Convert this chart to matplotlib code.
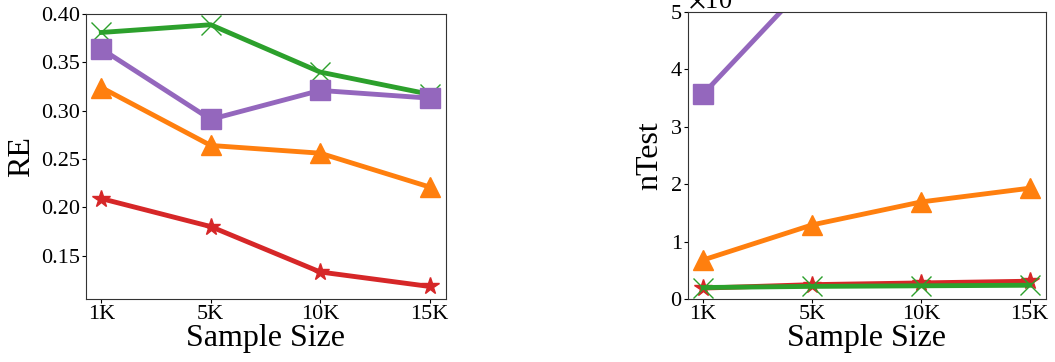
import matplotlib
matplotlib.use("Agg")
import matplotlib.pyplot as plt
from matplotlib.ticker import ScalarFormatter

plt.rcParams['font.family'] = ['Liberation Serif', 'DejaVu Serif']
plt.rcParams['mathtext.fontset'] = 'stix'

sizes = ["1K", "5K", "10K", "15K"]

re_red = [0.209, 0.180, 0.133, 0.118]
re_orange = [0.324, 0.264, 0.256, 0.221]
re_green = [0.381, 0.389, 0.340, 0.317]
re_purple = [0.364, 0.291, 0.321, 0.313]

nt_red = [0.19e4, 0.25e4, 0.28e4, 0.31e4]
nt_orange = [0.68e4, 1.29e4, 1.69e4, 1.93e4]
nt_green = [0.20e4, 0.22e4, 0.23e4, 0.24e4]
nt_purple = [3.57e4, 5.58e4, 7.5e4, 9.0e4]

styles = [
    ("red", "#d62728", "*", 13, 1.0),
    ("orange", "#ff7f0e", "^", 15, 1.0),
    ("green", "#2ca02c", "x", 15, 1.0),
    ("purple", "#9467bd", "s", 14, 1.0),
]

fig = plt.figure(figsize=(10.55, 3.62), dpi=100)
ax1 = fig.add_axes([0.0815, 0.174, 0.3412, 0.787])
ax2 = fig.add_axes([0.652, 0.174, 0.3395, 0.793])

x = list(range(len(sizes)))
re_data = {"red": re_red, "orange": re_orange, "green": re_green, "purple": re_purple}
nt_data = {"red": nt_red, "orange": nt_orange, "green": nt_green, "purple": nt_purple}

for ax, data in ((ax1, re_data), (ax2, nt_data)):
    for name, col, mk, ms, mew in styles:
        ax.plot(x, data[name], color=col, marker=mk, markersize=ms,
                linewidth=3.5, markeredgewidth=mew, markeredgecolor=col)
    ax.set_xticks(x)
    ax.set_xticklabels(sizes)
    ax.set_xlim(-0.14, 3.15)
    ax.tick_params(labelsize=16, pad=1, length=3)
    ax.set_xlabel("Sample Size", fontsize=23, labelpad=0)
    for s in ax.spines.values():
        s.set_color("#333333")

ax1.set_ylim(0.105, 0.40)
ax1.set_yticks([0.15, 0.20, 0.25, 0.30, 0.35, 0.40])
ax1.set_yticklabels(["0.15", "0.20", "0.25", "0.30", "0.35", "0.40"])
ax1.set_ylabel("RE", fontsize=23, labelpad=4)

ax2.set_ylim(0, 5e4)
ax2.set_yticks([0, 1e4, 2e4, 3e4, 4e4, 5e4])
fmt = ScalarFormatter(useMathText=True)
fmt.set_powerlimits((0, 0))
ax2.yaxis.set_major_formatter(fmt)
ax2.yaxis.get_offset_text().set_fontsize(19)
ax2.set_ylabel("nTest", fontsize=23, labelpad=4)

fig.savefig("out.png", dpi=100)
